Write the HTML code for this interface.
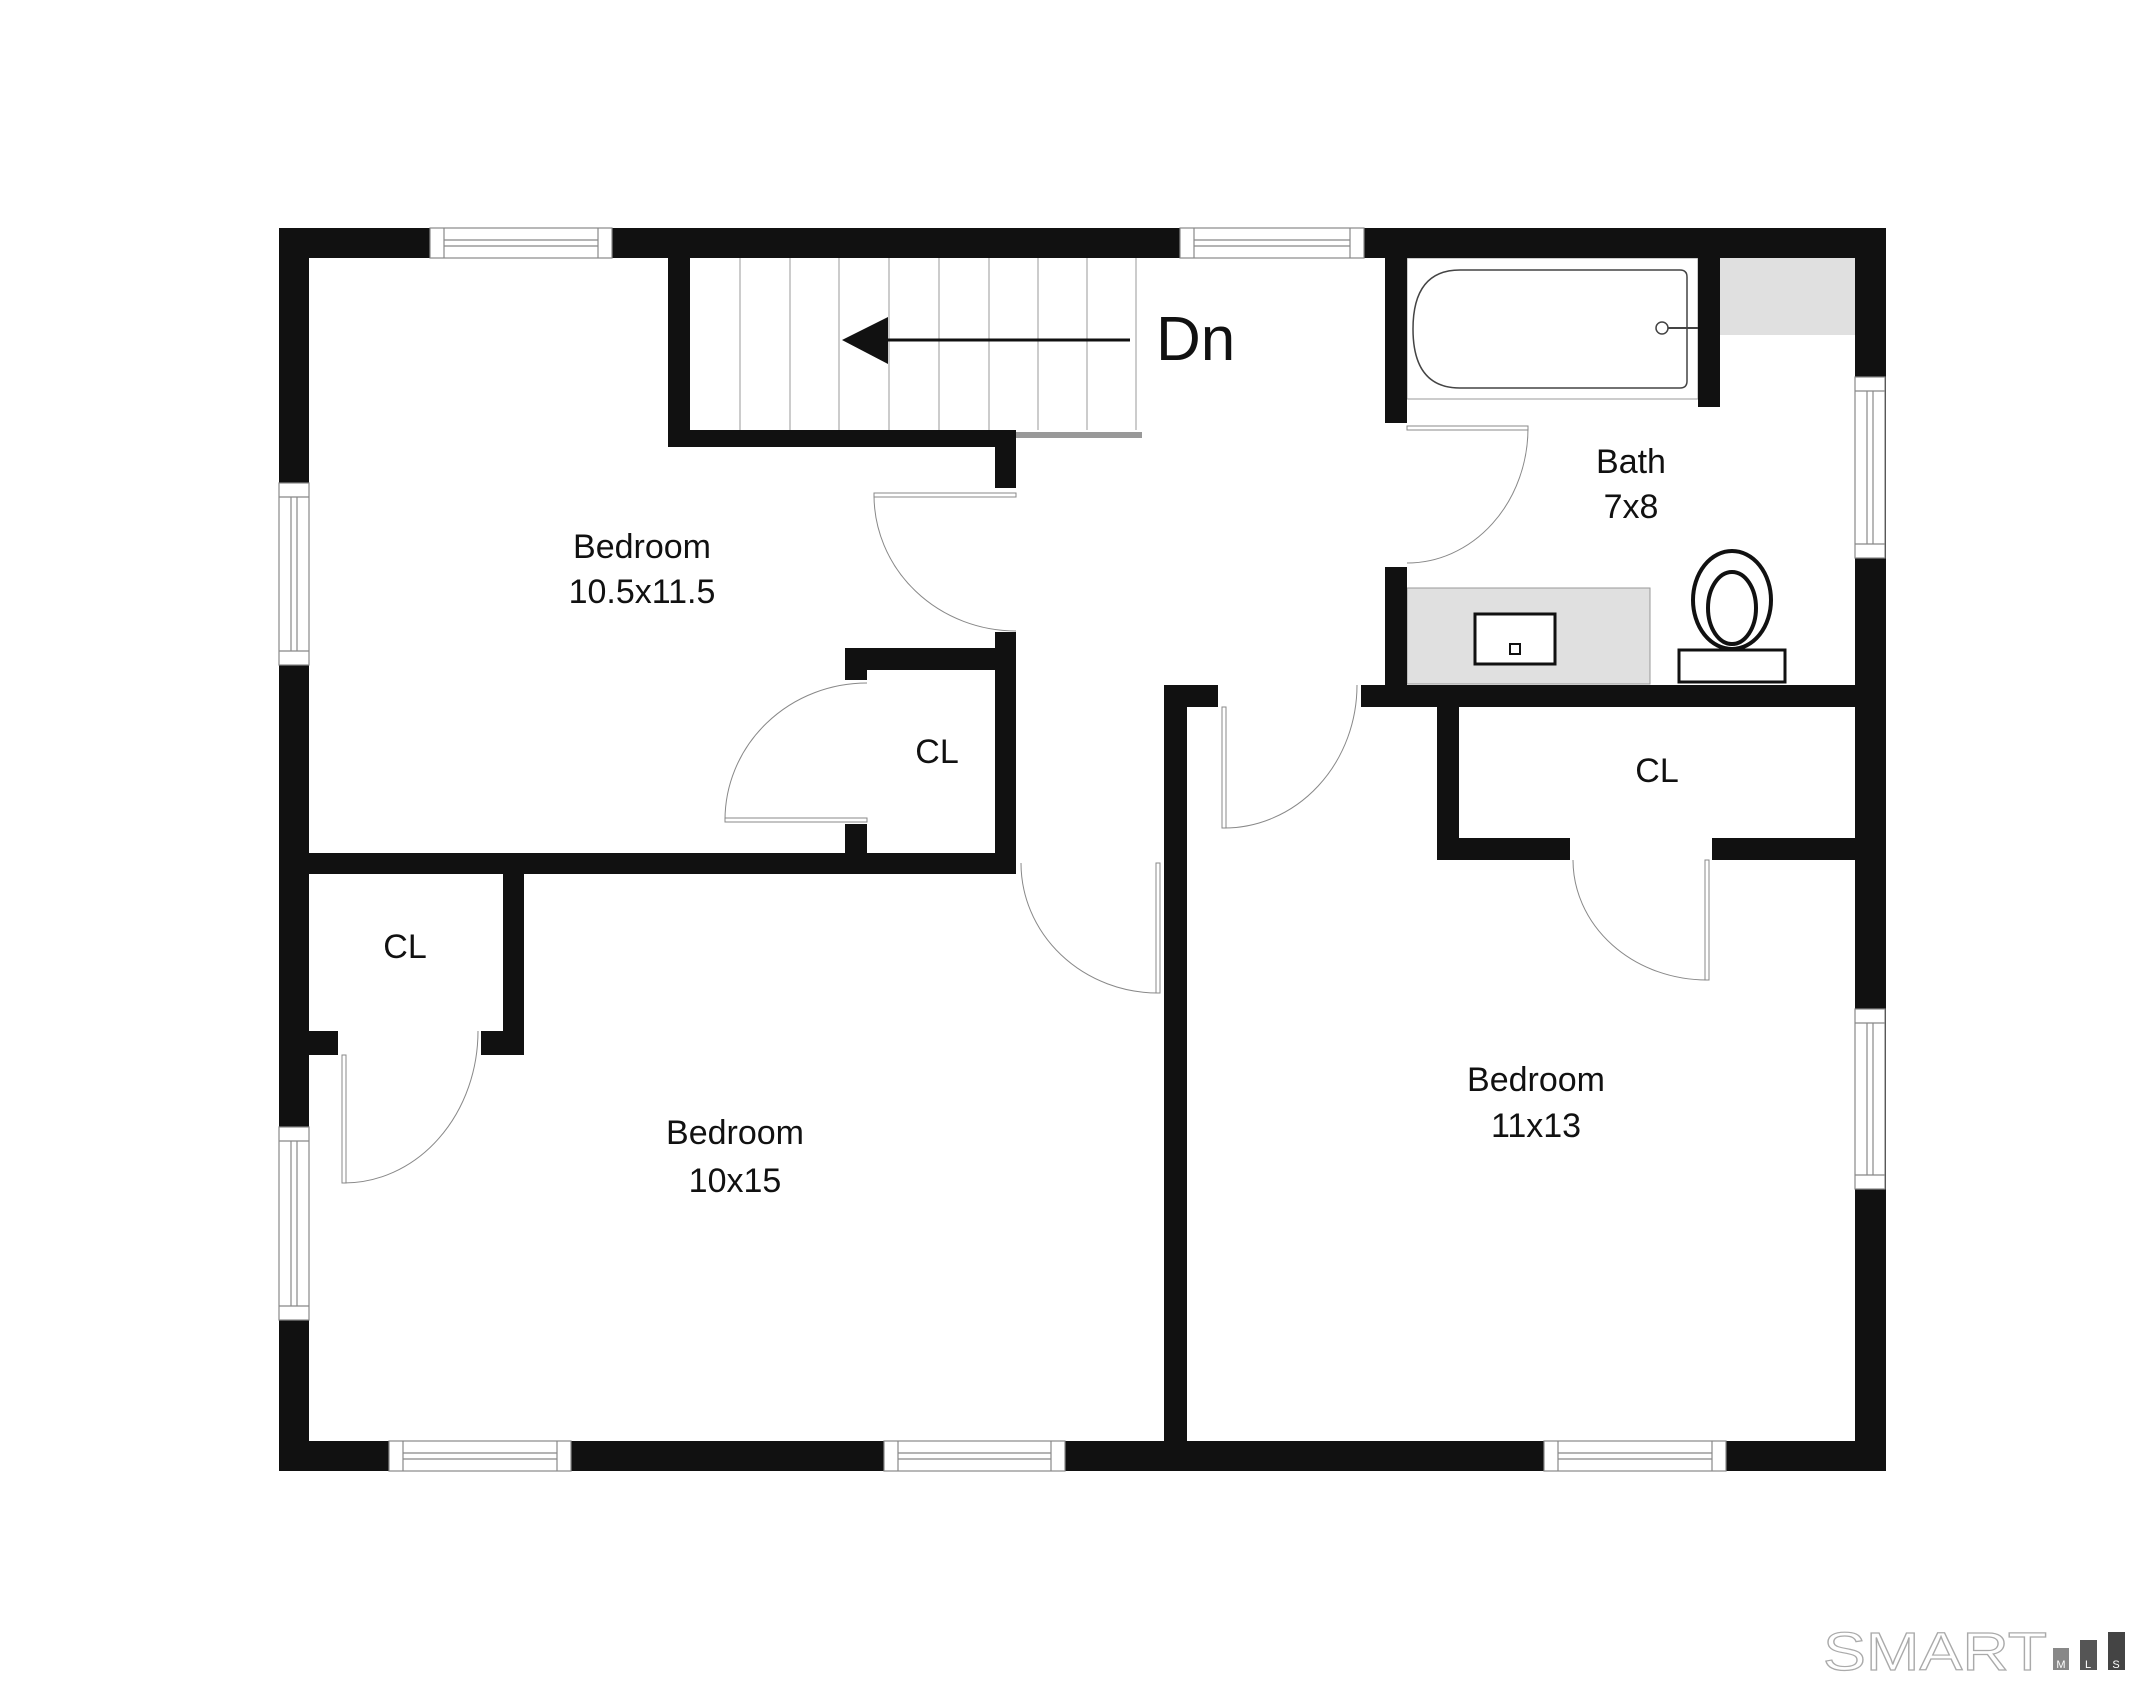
<!DOCTYPE html>
<html><head><meta charset="utf-8"><style>
html,body{margin:0;padding:0;background:#fff;}
svg{display:block}
text{font-family:"Liberation Sans",sans-serif;fill:#111;}
</style></head><body>
<svg width="2148" height="1693" viewBox="0 0 2148 1693" xmlns="http://www.w3.org/2000/svg">
<rect width="2148" height="1693" fill="#fff"/>
<g stroke="#999" stroke-width="1">
<line x1="740" y1="258" x2="740" y2="430"/><line x1="790" y1="258" x2="790" y2="430"/>
<line x1="839" y1="258" x2="839" y2="430"/><line x1="889" y1="258" x2="889" y2="430"/>
<line x1="939" y1="258" x2="939" y2="430"/><line x1="989" y1="258" x2="989" y2="430"/>
<line x1="1038" y1="258" x2="1038" y2="430"/><line x1="1087" y1="258" x2="1087" y2="430"/>
<line x1="1136" y1="258" x2="1136" y2="430"/>
</g>
<rect x="1016" y="432" width="126" height="6" fill="#999"/>
<line x1="880" y1="340" x2="1130" y2="340" stroke="#111" stroke-width="3"/>
<polygon points="842,340 888,317 888,364" fill="#111"/>
<text x="1156" y="360" font-size="62">Dn</text>
<rect x="1407" y="258" width="291" height="141" fill="#fff" stroke="#999" stroke-width="1"/>
<path d="M1460,270 H1680 Q1687,270 1687,277 V381 Q1687,388 1680,388 H1460 Q1413,388 1413,329 Q1413,270 1460,270 Z" fill="#fff" stroke="#444" stroke-width="1.5"/>
<circle cx="1662" cy="328" r="6" fill="#fff" stroke="#444" stroke-width="1.5"/>
<line x1="1668" y1="328" x2="1698" y2="328" stroke="#444" stroke-width="2"/>
<rect x="1720" y="258" width="135" height="77" fill="#e0e0e0"/>
<rect x="1407" y="588" width="243" height="96" fill="#e0e0e0" stroke="#999" stroke-width="1"/>
<rect x="1475" y="614" width="80" height="50" fill="#fff" stroke="#111" stroke-width="3"/>
<rect x="1510" y="644" width="10" height="10" fill="#fff" stroke="#111" stroke-width="2"/>
<ellipse cx="1732" cy="600" rx="39" ry="49" fill="#fff" stroke="#111" stroke-width="4"/>
<ellipse cx="1732" cy="608" rx="24" ry="36" fill="#fff" stroke="#111" stroke-width="4"/>
<rect x="1679" y="650" width="106" height="32" fill="#fff" stroke="#111" stroke-width="3"/>
<g fill="#111">
<rect x="279" y="228" width="1607" height="30"/>
<rect x="279" y="228" width="30" height="1243"/>
<rect x="1855" y="228" width="31" height="1243"/>
<rect x="279" y="1441" width="1607" height="30"/>
<rect x="668" y="258" width="22" height="189"/>
<rect x="668" y="430" width="348" height="17"/>
<rect x="995" y="430" width="21" height="58"/>
<rect x="995" y="632" width="21" height="242"/>
<rect x="845" y="648" width="171" height="22"/>
<rect x="845" y="648" width="22" height="32"/>
<rect x="845" y="824" width="22" height="50"/>
<rect x="309" y="853" width="707" height="21"/>
<rect x="503" y="874" width="21" height="181"/>
<rect x="481" y="1031" width="43" height="24"/>
<rect x="309" y="1031" width="29" height="24"/>
<rect x="1164" y="685" width="23" height="756"/>
<rect x="1164" y="685" width="54" height="22"/>
<rect x="1361" y="685" width="494" height="22"/>
<rect x="1385" y="258" width="22" height="165"/>
<rect x="1385" y="567" width="22" height="118"/>
<rect x="1698" y="258" width="22" height="149"/>
<rect x="1437" y="707" width="22" height="153"/>
<rect x="1437" y="838" width="133" height="22"/>
<rect x="1712" y="838" width="143" height="22"/>
</g>
<g fill="#fff" stroke="#888" stroke-width="1.2">
<g><rect x="430" y="228" width="182" height="30"/><line x1="444" y1="228" x2="444" y2="258"/><line x1="598" y1="228" x2="598" y2="258"/><line x1="444" y1="240" x2="598" y2="240"/><line x1="444" y1="246" x2="598" y2="246"/></g>
<g><rect x="1180" y="228" width="184" height="30"/><line x1="1194" y1="228" x2="1194" y2="258"/><line x1="1350" y1="228" x2="1350" y2="258"/><line x1="1194" y1="240" x2="1350" y2="240"/><line x1="1194" y1="246" x2="1350" y2="246"/></g>
<g><rect x="389" y="1441" width="182" height="30"/><line x1="403" y1="1441" x2="403" y2="1471"/><line x1="557" y1="1441" x2="557" y2="1471"/><line x1="403" y1="1453" x2="557" y2="1453"/><line x1="403" y1="1459" x2="557" y2="1459"/></g>
<g><rect x="884" y="1441" width="181" height="30"/><line x1="898" y1="1441" x2="898" y2="1471"/><line x1="1051" y1="1441" x2="1051" y2="1471"/><line x1="898" y1="1453" x2="1051" y2="1453"/><line x1="898" y1="1459" x2="1051" y2="1459"/></g>
<g><rect x="1544" y="1441" width="182" height="30"/><line x1="1558" y1="1441" x2="1558" y2="1471"/><line x1="1712" y1="1441" x2="1712" y2="1471"/><line x1="1558" y1="1453" x2="1712" y2="1453"/><line x1="1558" y1="1459" x2="1712" y2="1459"/></g>
<g><rect x="279" y="483" width="30" height="182"/><line x1="279" y1="497" x2="309" y2="497"/><line x1="279" y1="651" x2="309" y2="651"/><line x1="291" y1="497" x2="291" y2="651"/><line x1="297" y1="497" x2="297" y2="651"/></g>
<g><rect x="279" y="1127" width="30" height="193"/><line x1="279" y1="1141" x2="309" y2="1141"/><line x1="279" y1="1306" x2="309" y2="1306"/><line x1="291" y1="1141" x2="291" y2="1306"/><line x1="297" y1="1141" x2="297" y2="1306"/></g>
<g><rect x="1855" y="377" width="30" height="181"/><line x1="1855" y1="391" x2="1885" y2="391"/><line x1="1855" y1="544" x2="1885" y2="544"/><line x1="1867" y1="391" x2="1867" y2="544"/><line x1="1873" y1="391" x2="1873" y2="544"/></g>
<g><rect x="1855" y="1009" width="30" height="180"/><line x1="1855" y1="1023" x2="1885" y2="1023"/><line x1="1855" y1="1175" x2="1885" y2="1175"/><line x1="1867" y1="1023" x2="1867" y2="1175"/><line x1="1873" y1="1023" x2="1873" y2="1175"/></g>
</g>
<g fill="#fff" stroke="#888" stroke-width="1">
<rect x="874" y="493" width="142" height="4"/>
<path d="M874,495 A142,136 0 0 0 1016,631" fill="none"/>
<rect x="725" y="818" width="142" height="4"/>
<path d="M725,820 A142,137 0 0 1 867,683" fill="none"/>
<rect x="342" y="1055" width="4" height="128"/>
<path d="M344,1183 A134,152 0 0 0 478,1031" fill="none"/>
<rect x="1156" y="863" width="4" height="130"/>
<path d="M1158,993 A137,130 0 0 1 1021,863" fill="none"/>
<rect x="1222" y="707" width="4" height="121"/>
<path d="M1224,828 A133,143 0 0 0 1357,685" fill="none"/>
<rect x="1407" y="426" width="121" height="4"/>
<path d="M1528,428 A121,135 0 0 1 1407,563" fill="none"/>
<rect x="1705" y="860" width="4" height="120"/>
<path d="M1707,980 A134,120 0 0 1 1573,860" fill="none"/>
</g>
<g font-size="34" text-anchor="middle">
<text x="642" y="558">Bedroom</text>
<text x="642" y="603">10.5x11.5</text>
<text x="937" y="763">CL</text>
<text x="1631" y="473">Bath</text>
<text x="1631" y="518">7x8</text>
<text x="1657" y="782">CL</text>
<text x="405" y="958">CL</text>
<text x="735" y="1144">Bedroom</text>
<text x="735" y="1192">10x15</text>
<text x="1536" y="1091">Bedroom</text>
<text x="1536" y="1137">11x13</text>
</g>
<text x="1823" y="1670" font-size="54" textLength="224" lengthAdjust="spacingAndGlyphs" stroke="#aaa" stroke-width="1.2" style="fill:#fff">SMART</text>
<rect x="2053" y="1648" width="16" height="22" fill="#888"/>
<rect x="2080" y="1640" width="17" height="30" fill="#555"/>
<rect x="2108" y="1632" width="17" height="38" fill="#444"/>
<g font-size="11" text-anchor="middle"><text x="2061" y="1668" style="fill:#fff">M</text><text x="2088" y="1668" style="fill:#fff">L</text><text x="2116" y="1668" style="fill:#fff">S</text></g>
</svg>
</body></html>
